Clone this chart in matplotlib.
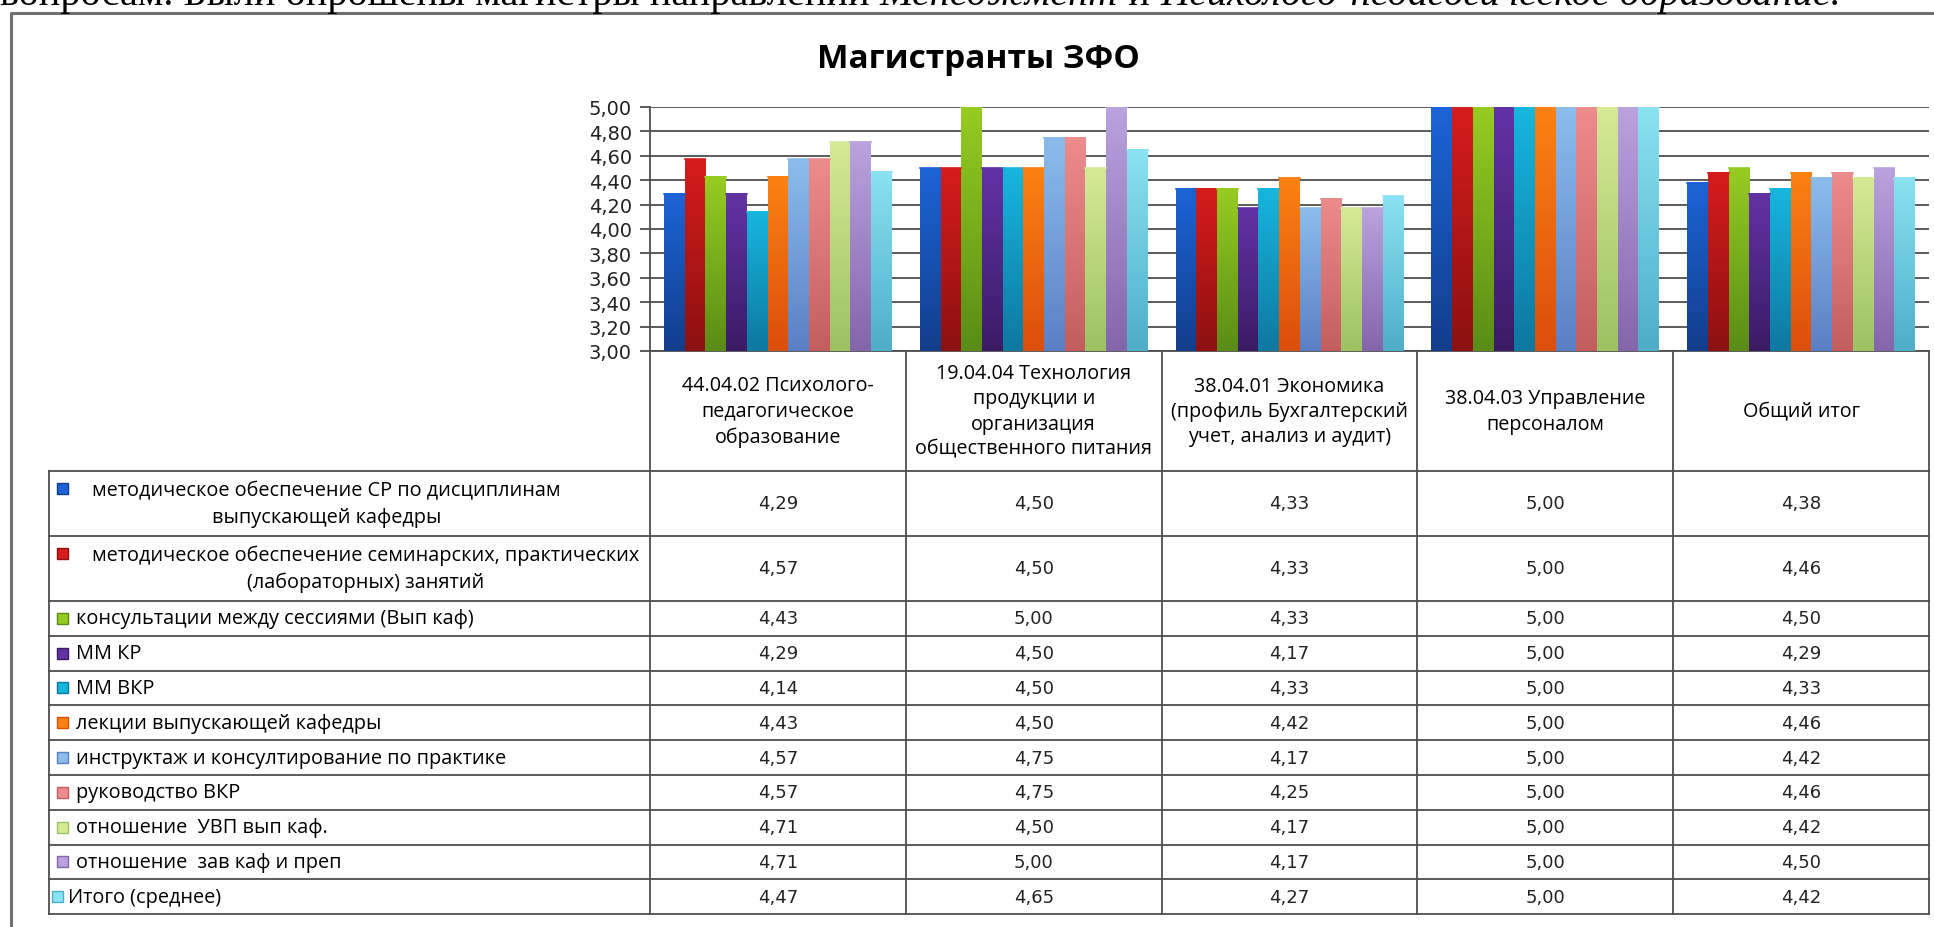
import matplotlib.pyplot as plt
import numpy as np
from matplotlib.patches import Rectangle
from matplotlib.colors import to_rgb

# chart data
title = "Магистранты ЗФО"
categories = ["44.04.02 Психолого-\nпедагогическое\nобразование",
              "19.04.04 Технология\nпродукции и\nорганизация\nобщественного питания",
              "38.04.01 Экономика\n(профиль Бухгалтерский\nучет, анализ и аудит)",
              "38.04.03 Управление\nперсоналом",
              "Общий итог"]
series_names = ["методическое обеспечение СР по дисциплинам\nвыпускающей кафедры",
                "методическое обеспечение семинарских, практических\n(лабораторных) занятий",
                "консультации между сессиями (Вып каф)",
                "ММ КР",
                "ММ ВКР",
                "лекции выпускающей кафедры",
                "инструктаж и консултирование по практике",
                "руководство ВКР",
                "отношение  УВП вып каф.",
                "отношение  зав каф и преп",
                "Итого (среднее)"]
mo_sr = [4.29, 4.50, 4.33, 5.00, 4.38]
mo_sem = [4.57, 4.50, 4.33, 5.00, 4.46]
konsult = [4.43, 5.00, 4.33, 5.00, 4.50]
mm_kr = [4.29, 4.50, 4.17, 5.00, 4.29]
mm_vkr = [4.14, 4.50, 4.33, 5.00, 4.33]
lekcii = [4.43, 4.50, 4.42, 5.00, 4.46]
instrukt = [4.57, 4.75, 4.17, 5.00, 4.42]
ruk_vkr = [4.57, 4.75, 4.25, 5.00, 4.46]
uvp = [4.71, 4.50, 4.17, 5.00, 4.42]
zav_kaf = [4.71, 5.00, 4.17, 5.00, 4.50]
itogo = [4.47, 4.65, 4.27, 5.00, 4.42]
series = [mo_sr, mo_sem, konsult, mm_kr, mm_vkr, lekcii, instrukt, ruk_vkr, uvp, zav_kaf, itogo]
y_ticks = [3.0, 3.2, 3.4, 3.6, 3.8, 4.0, 4.2, 4.4, 4.6, 4.8, 5.0]

top_cols = ['#1c64d6', '#d61c1c', '#96cc22', '#6232a4', '#16b6de', '#fa8212',
            '#8cbcec', '#ec8c8c', '#d6ea96', '#baa2de', '#8ae2f2']
bot_cols = ['#123e8c', '#8c1010', '#5a8c16', '#3a1c66', '#0e78a0', '#dc4e0c',
            '#5a80c4', '#c45e5e', '#9cc262', '#8466aa', '#4eaec8']

def comma(v):
    return f"{v:.2f}".replace('.', ',')

W, H = 1934, 928
fig = plt.figure(figsize=(W / 100, H / 100), dpi=100)
fig.patch.set_facecolor('white')

# background axes in pixel coordinates for frame, table and texts
bg = fig.add_axes([0, 0, 1, 1])
bg.set_xlim(0, W)
bg.set_ylim(H, 0)
bg.axis('off')

line_col = '#4e4e4e'
txt_font = ['Open Sans', 'DejaVu Sans']

# clipped sentence of the surrounding document
doc_fs = 29
t1 = bg.text(0, 5, "вопросам. Были опрошены магистры направлений ", fontsize=doc_fs,
             family='Liberation Serif', va='baseline', ha='left')
t2 = bg.annotate("Менеджмент", xy=(1, 0), xycoords=t1, va='bottom', ha='left',
                 fontsize=doc_fs, family='Liberation Serif', style='italic')
t3 = bg.annotate(" и ", xy=(1, 0), xycoords=t2, va='bottom', ha='left',
                 fontsize=doc_fs, family='Liberation Serif')
bg.annotate("Психолого-педагогическое образование.", xy=(1, 0), xycoords=t3, va='bottom',
            ha='left', fontsize=doc_fs, family='Liberation Serif', style='italic')

# outer frame
bg.plot([11, 11, W + 5], [H + 5, 14, 14], color='#707070', lw=2.2, solid_capstyle='butt')

bg.text(978, 60, title, fontsize=24, fontweight='bold', family=txt_font,
        ha='center', va='center')

# chart
ax_l, ax_r, ax_t, ax_b = 650, 1929, 108, 352
ax = fig.add_axes([ax_l / W, 1 - ax_b / H, (ax_r - ax_l) / W, (ax_b - ax_t) / H])
ax.set_facecolor('none')
n_cat, n_ser = len(categories), len(series)
gap = 0.055
bw = (1 - 2 * gap) / n_ser
for i, vals in enumerate(series):
    xs = np.arange(n_cat) + gap + i * bw
    bars = ax.bar(xs, vals, width=bw, align='edge', color=top_cols[i], edgecolor='none', zorder=2)
    grad = np.linspace(0, 1, 64)[:, None, None]
    img = (1 - grad) * np.array(to_rgb(bot_cols[i])) + grad * np.array(to_rgb(top_cols[i]))
    for b in bars:
        x0, w, h = b.get_x(), b.get_width(), b.get_height()
        ax.imshow(img, extent=(x0, x0 + w, 3, h), origin='lower', aspect='auto', zorder=3)
        ax.plot([x0, x0 + w], [h, h], color=top_cols[i], lw=1.2, zorder=4)

ax.set_xlim(0, n_cat)
ax.set_ylim(3, 5)
ax.set_yticks(y_ticks)
ax.set_yticklabels([comma(v) for v in y_ticks])
ax.set_xticks([])
ax.tick_params(axis='y', length=7, width=1.3, color=line_col, labelsize=14, pad=6,
               labelcolor='#222222')
ax.yaxis.grid(True, color=line_col, lw=1.3, zorder=0)
ax.set_axisbelow(True)
for s in ['left', 'top', 'bottom']:
    ax.spines[s].set_color(line_col)
    ax.spines[s].set_linewidth(1.3)
ax.spines['right'].set_visible(False)
ax.spines['top'].set_visible(False)

# data table
col_w = (ax_r - ax_l) / n_cat
col_edges = [ax_l + k * col_w for k in range(n_cat + 1)]
head_bot = 472
row_h = [65, 65] + [34.8] * 9
row_edges = [head_bot]
for h in row_h:
    row_edges.append(row_edges[-1] + h)
leg_l = 49
tab_b = row_edges[-1]

for x in col_edges:
    bg.plot([x, x], [ax_b, tab_b], color=line_col, lw=1.3)
bg.plot([leg_l, leg_l], [head_bot, tab_b], color=line_col, lw=1.3)
for y in row_edges:
    bg.plot([leg_l, ax_r], [y, y], color=line_col, lw=1.3)

for k, cat in enumerate(categories):
    bg.text((col_edges[k] + col_edges[k + 1]) / 2, (ax_b + head_bot) / 2, cat,
            ha='center', va='center', fontsize=14.2, family=txt_font, linespacing=1.35)

for r, name in enumerate(series_names):
    yc = (row_edges[r] + row_edges[r + 1]) / 2
    two_lines = '\n' in name
    if two_lines:
        tx, my = 92, yc - 15
    elif r == n_ser - 1:
        tx, my = 68, yc
    else:
        tx, my = 76, yc
    mx = 57 if r == n_ser - 1 else 62
    bg.add_patch(Rectangle((mx - 5.5, my - 5.5), 11, 11, facecolor=top_cols[r],
                           edgecolor=bot_cols[r], lw=1))
    bg.text(tx, yc, name, ha='left', va='center', multialignment='center',
            fontsize=14.3, family=txt_font, linespacing=1.4)
    for k in range(n_cat):
        bg.text((col_edges[k] + col_edges[k + 1]) / 2, yc, comma(series[r][k]),
                ha='center', va='center', fontsize=13, color='#222222')

fig.savefig('out.png', dpi=100)
